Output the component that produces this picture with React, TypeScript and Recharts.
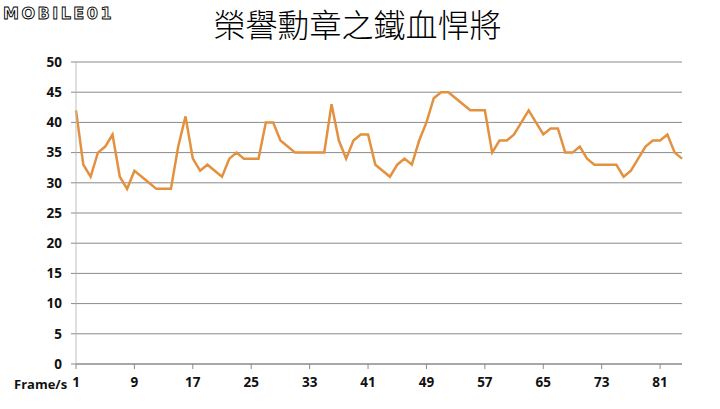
import React from 'react'
import { LineChart, Line, XAxis, YAxis, CartesianGrid } from 'recharts'

// fps per frame sample
const frames: number[] = Array.from({ length: 84 }, (_, i) => i + 1)
const fps: number[] = [
  42, 33, 31, 35, 36, 38, 31, 29, 32, 31, 30, 29, 29, 29, 36, 41, 34, 32, 33, 32,
  31, 34, 35, 34, 34, 34, 40, 40, 37, 36, 35, 35, 35, 35, 35, 43, 37, 34, 37, 38,
  38, 33, 32, 31, 33, 34, 33, 37, 40, 44, 45, 45, 44, 43, 42, 42, 42, 35, 37, 37,
  38, 40, 42, 40, 38, 39, 39, 35, 35, 36, 34, 33, 33, 33, 33, 31, 32, 34, 36, 37,
  37, 38, 35, 34,
]
const xTicks = [1, 9, 17, 25, 33, 41, 49, 57, 65, 73, 81]
const yTicks = [0, 5, 10, 15, 20, 25, 30, 35, 40, 45, 50]

const data = frames.map((f, i) => ({ frame: f, fps: fps[i] }))

const tickFont = { fill: '#111', fontSize: 13.5, fontWeight: 700, fontFamily: '"Open Sans", sans-serif' }

export default function App() {
  return (
    <div style={{ position: 'absolute', left: 0, top: 0, width: 720, height: 409, background: '#fff' }}>
      <svg width={130} height={26} style={{ position: 'absolute', left: 0, top: 0 }}>
        <text
          x={3}
          y={19}
          fontSize={16}
          fontWeight={700}
          fontFamily="'DejaVu Sans', sans-serif"
          fill="#fff"
          stroke="#000"
          strokeWidth={0.9}
          letterSpacing={2.5}
        >
          MOBILE01
        </text>
      </svg>
      <div
        style={{
          position: 'absolute',
          left: 0,
          top: 3,
          width: 715,
          textAlign: 'center',
          fontFamily: '"Noto Sans CJK TC", sans-serif',
          fontWeight: 300,
          fontSize: 32,
          lineHeight: '40px',
          color: '#000',
        }}
      >
        榮譽勳章之鐵血悍將
      </div>
      <div
        style={{
          position: 'absolute',
          left: 14,
          top: 375,
          fontSize: 13,
          fontWeight: 700,
          fontFamily: '"Open Sans", sans-serif',
          color: '#111',
        }}
      >
        Frame/s
      </div>
      <LineChart width={720} height={409} data={data} margin={{ top: 62, right: 38, bottom: 0, left: 0 }}>
        <CartesianGrid vertical={false} stroke="#8a8a8a" strokeWidth={1} />
        <XAxis
          type="number"
          dataKey="frame"
          domain={[1, 84]}
          ticks={xTicks}
          height={45}
          axisLine={{ stroke: '#8a8a8a' }}
          tickLine={{ stroke: '#8a8a8a' }}
          tickSize={5}
          tickMargin={8}
          tick={tickFont}
        />
        <YAxis
          type="number"
          domain={[0, 50]}
          ticks={yTicks}
          width={76}
          axisLine={{ stroke: '#c0c0c0' }}
          tickLine={{ stroke: '#8a8a8a' }}
          tickSize={5}
          tickMargin={9}
          tick={tickFont}
        />
        <Line
          type="linear"
          dataKey="fps"
          stroke="#e3913f"
          strokeWidth={2.5}
          dot={false}
          isAnimationActive={false}
        />
      </LineChart>
    </div>
  )
}
